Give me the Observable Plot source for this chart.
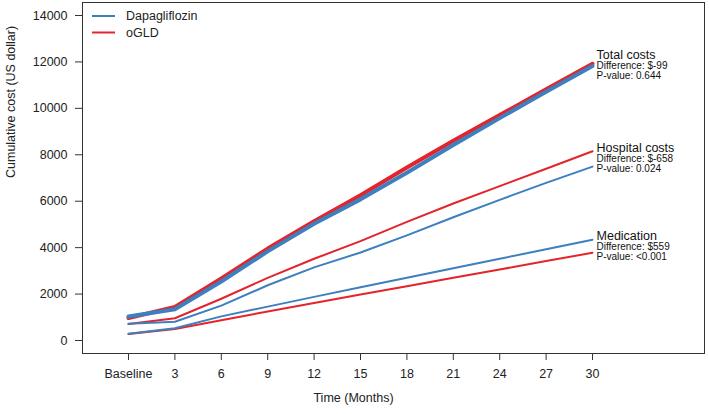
<!DOCTYPE html>
<html>
<head>
<meta charset="utf-8">
<script src="https://cdn.jsdelivr.net/npm/d3@7"></script>
<script src="https://cdn.jsdelivr.net/npm/@observablehq/plot@0.6"></script>
<style>
  html, body { margin: 0; padding: 0; background: #fff; }
  #chart { width: 709px; height: 414px; }
</style>
</head>
<body>
<div id="chart"></div>
<script>
// ---- data ----
const months = [0, 3, 6, 9, 12, 15, 18, 21, 24, 27, 30];
const xTickLabels = ["Baseline", "3", "6", "9", "12", "15", "18", "21", "24", "27", "30"];
const yTicks = [0, 2000, 4000, 6000, 8000, 10000, 12000, 14000];

const totalDapa = [1030, 1350, 2540, 3840, 5030, 6080, 7230, 8420, 9580, 10720, 11820];
const totalOgld = [970, 1440, 2670, 3960, 5140, 6260, 7450, 8600, 9710, 10820, 11920];
const hospDapa  = [720, 805, 1500, 2380, 3150, 3790, 4530, 5310, 6060, 6790, 7490];
const hospOgld  = [710, 960, 1800, 2700, 3520, 4280, 5110, 5900, 6650, 7400, 8150];
const medDapa   = [290, 530, 1040, 1460, 1880, 2290, 2700, 3110, 3520, 3930, 4340];
const medOgld   = [280, 500, 870, 1250, 1620, 1980, 2340, 2700, 3060, 3420, 3780];

const groupNames = ["Total costs", "Hospital costs", "Medication"];
const differences = ["Difference: $-99", "Difference: $-658", "Difference: $559"];
const pValues = ["P-value: 0.644", "P-value: 0.024", "P-value: <0.001"];
const labelY = [12250, 8230, 4450];
const treatments = ["Dapagliflozin", "oGLD"];

// ---- build table ----
const seriesList = [
  {cost: "Total", treat: "oGLD", values: totalOgld},
  {cost: "Total", treat: "Dapagliflozin", values: totalDapa},
  {cost: "Hospital", treat: "oGLD", values: hospOgld},
  {cost: "Hospital", treat: "Dapagliflozin", values: hospDapa},
  {cost: "Medication", treat: "oGLD", values: medOgld},
  {cost: "Medication", treat: "Dapagliflozin", values: medDapa}
];
const rows = seriesList.flatMap(s => s.values.map((v, i) => ({
  month: months[i], value: v, treat: s.treat, cost: s.cost, key: s.cost + "-" + s.treat
})));
const labels = groupNames.map((n, i) => ({name: n, diff: differences[i], p: pValues[i], y: labelY[i], x: months[months.length - 1]}));

const BLUE = "#3d7fbf";
const RED = "#e3242b";
const colorScale = {domain: treatments, range: [BLUE, RED]};

const thick = rows.filter(d => d.cost === "Total");
const thin = rows.filter(d => d.cost !== "Total");

const plot = Plot.plot({
  width: 709,
  height: 414,
  marginLeft: 82,
  marginRight: 5,
  marginTop: 2,
  marginBottom: 61,
  style: {fontFamily: "'Liberation Sans', Arial, sans-serif", fontSize: "12.5px", color: "#222", background: "#fff"},
  x: {domain: [-2.974, 37.24]},
  y: {domain: [-560, 14560]},
  color: colorScale,
  marks: [
    Plot.axisX({ticks: months, tickSize: 7, tickPadding: 9, tickFormat: d => xTickLabels[months.indexOf(d)], label: null, stroke: "#333"}),
    Plot.axisY({ticks: yTicks, tickSize: 7, tickPadding: 8, tickFormat: d => String(d), label: null, stroke: "#333"}),
    Plot.frame({stroke: "#333", strokeWidth: 1}),
    Plot.text(["Cumulative cost (US dollar)"], {frameAnchor: "left", rotate: -90, dx: -72, fill: "#222"}),
    Plot.text(["Time (Months)"], {frameAnchor: "bottom", dx: -40, dy: 48, fill: "#222"}),
    Plot.line(thin, {x: "month", y: "value", z: "key", stroke: "treat", strokeWidth: 2}),
    Plot.line(thick, {x: "month", y: "value", z: "key", stroke: "treat", strokeWidth: 4}),
    Plot.text(labels, {x: "x", y: "y", text: "name", textAnchor: "start", dx: 4, dy: -1, fontSize: 12.5, fill: "#111"}),
    Plot.text(labels, {x: "x", y: "y", text: "diff", textAnchor: "start", dx: 4, dy: 9.5, fontSize: 10, fill: "#111"}),
    Plot.text(labels, {x: "x", y: "y", text: "p", textAnchor: "start", dx: 4, dy: 19.5, fontSize: 10, fill: "#111"})
  ]
});

// legend inside plot area (top-left)
const svg = d3.select(plot);
const leg = svg.append("g")
  .attr("font-family", "'Liberation Sans', Arial, sans-serif")
  .attr("font-size", "12.5px")
  .attr("text-anchor", "start");
treatments.forEach((t, i) => {
  const yy = 16 + i * 16.5;
  leg.append("line").attr("x1", 92).attr("x2", 115).attr("y1", yy).attr("y2", yy)
    .attr("stroke", colorScale.range[i]).attr("stroke-width", 2);
  leg.append("text").attr("x", 126).attr("y", yy).attr("dy", "0.35em")
    .attr("text-anchor", "start").attr("fill", "#222").text(t);
});

document.getElementById("chart").appendChild(plot);
</script>
</body>
</html>
